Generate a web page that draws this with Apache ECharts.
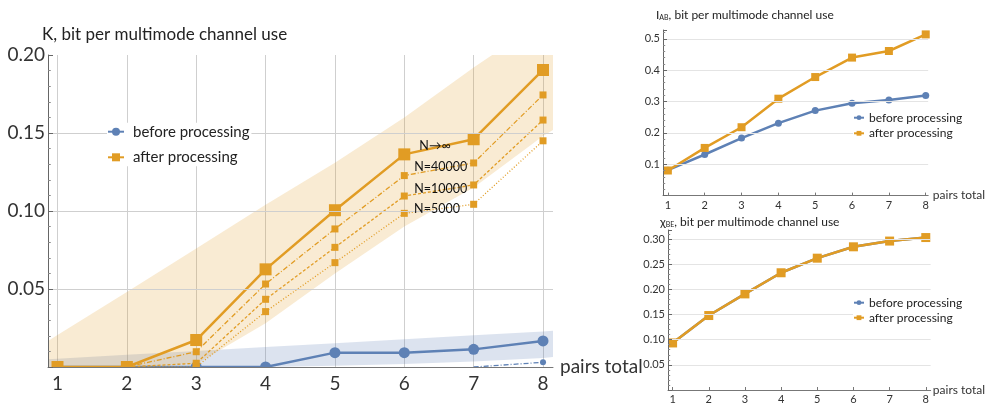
<!DOCTYPE html>
<html><head><meta charset="utf-8">
<script src="https://cdn.jsdelivr.net/npm/echarts@6/dist/echarts.min.js"></script>
<style>html,body{margin:0;padding:0;background:#fff}#c{width:986px;height:405px}</style>
</head><body><div id="c"></div>
<script>
// ---------- data ----------
const pairs = [1, 2, 3, 4, 5, 6, 7, 8];
// main panel: K
const kBefore        = [0, 0, 0, 0, 0.0092, 0.0092, 0.0113, 0.0167];
const kBeforeN40000  = [null, null, null, null, null, null, 0, 0.003];
const kAfterInf      = [0, 0, 0.0173, 0.0626, 0.1005, 0.1363, 0.1460, 0.1904];
const kAfterN40000   = [0, 0, 0.0098, 0.0532, 0.0885, 0.1227, 0.1308, 0.1744];
const kAfterN10000   = [0, 0, 0.0024, 0.0434, 0.0767, 0.1096, 0.1167, 0.1583];
const kAfterN5000    = [0, 0, 0, 0.0355, 0.0669, 0.0985, 0.1043, 0.1450];
// confidence bands
const bandX      = [0.863, 1, 2, 3, 4, 5, 6, 7, 8, 8.144];
const orangeLow  = [0, 0, 0, 0.002, 0.028, 0.060, 0.090, 0.115, 0.148, 0.152];
const orangeHigh = [0.0167, 0.0205, 0.048, 0.076, 0.104, 0.131, 0.160, 0.192, 0.222, 0.227];
const blueLow    = [0, 0, 0, 0, 0, 0.0008, 0.002, 0.0035, 0.0058, 0.0064];
const blueHigh   = [0.005, 0.0053, 0.0078, 0.0103, 0.0128, 0.0153, 0.0178, 0.0203, 0.0228, 0.0232];
// top-right: I_AB
const iabBefore = [0.081, 0.131, 0.1835, 0.231, 0.271, 0.2946, 0.305, 0.319];
const iabAfter  = [0.080, 0.152, 0.218, 0.309, 0.378, 0.440, 0.461, 0.514];
// bottom-right: chi_BE
const chiBefore = [0.0935, 0.148, 0.191, 0.233, 0.262, 0.2846, 0.296, 0.303];
const chiAfter  = [0.0935, 0.148, 0.191, 0.233, 0.262, 0.2846, 0.296, 0.303];
// labels
const nLabels = ['N\u2192\u221E', 'N=40000', 'N=10000', 'N=5000'];

// ---------- style ----------
const BLUE = '#5E81B5', ORANGE = '#E19C24';
const FONT = 'Lato';
const TXT = '#333';

const pts = (ys) => pairs.map((x, i) => [x, ys[i] == null ? '-' : ys[i]]);

function bandSeries(lo, hi, fill) {
  return {
    type: 'custom', xAxisIndex: 0, yAxisIndex: 0, clip: true, silent: true, z: 1,
    data: bandX.map((x, i) => [x, lo[i], hi[i]]),
    encode: {x: 0, y: [1, 2]},
    renderItem: function (params, api) {
      if (params.dataIndex !== 0) return null;
      const top = bandX.map((x, i) => api.coord([x, hi[i]]));
      const bot = bandX.map((x, i) => api.coord([x, lo[i]])).reverse();
      return {type: 'polygon', shape: {points: top.concat(bot)}, style: {fill: fill}};
    }
  };
}

const chart = echarts.init(document.getElementById('c'), null, {renderer: 'canvas'});

const series = [
  bandSeries(blueLow, blueHigh, 'rgba(94,129,181,0.22)'),
  bandSeries(orangeLow, orangeHigh, 'rgba(225,156,36,0.2)'),
  // blue
  {name: 'before processing', type: 'line', xAxisIndex: 0, yAxisIndex: 0, data: pts(kBefore),
   symbol: 'circle', symbolSize: 11, color: BLUE, lineStyle: {width: 2.5, color: BLUE}, itemStyle: {color: BLUE}, z: 3,
   markLine: {silent: true, z: 0, symbol: ['none', 'none'], label: {show: false},
     lineStyle: {color: '#cfcfcf', type: 'solid', width: 1},
     data: pairs.map(v => ({xAxis: v}))}},
  {name: 'before N40000', type: 'line', xAxisIndex: 0, yAxisIndex: 0, data: pts(kBeforeN40000),
   symbol: 'circle', symbolSize: (v) => (v[1] > 0 ? 6 : 0), color: BLUE,
   lineStyle: {width: 1.3, color: BLUE, type: [5, 2, 1, 2]}, itemStyle: {color: BLUE}, z: 3},
  // orange
  {name: 'after N5000', type: 'line', xAxisIndex: 0, yAxisIndex: 0, data: pts(kAfterN5000),
   symbol: 'rect', symbolSize: 7, lineStyle: {width: 1.3, color: ORANGE, type: [1, 2]}, itemStyle: {color: ORANGE}, z: 4},
  {name: 'after N10000', type: 'line', xAxisIndex: 0, yAxisIndex: 0, data: pts(kAfterN10000),
   symbol: 'rect', symbolSize: 7, lineStyle: {width: 1.3, color: ORANGE, type: [3, 2]}, itemStyle: {color: ORANGE}, z: 4},
  {name: 'after N40000', type: 'line', xAxisIndex: 0, yAxisIndex: 0, data: pts(kAfterN40000),
   symbol: 'rect', symbolSize: 7, lineStyle: {width: 1.3, color: ORANGE, type: [5, 2, 1, 2]}, itemStyle: {color: ORANGE}, z: 4},
  {name: 'after processing', type: 'line', xAxisIndex: 0, yAxisIndex: 0, data: pts(kAfterInf),
   symbol: 'rect', symbolSize: 12, color: ORANGE, lineStyle: {width: 2.5, color: ORANGE}, itemStyle: {color: ORANGE}, z: 4},
  // top-right
  {name: 'before processing', type: 'line', xAxisIndex: 1, yAxisIndex: 1, data: pts(iabBefore),
   symbol: 'circle', symbolSize: 7, lineStyle: {width: 2.5, color: BLUE}, itemStyle: {color: BLUE}, z: 3},
  {name: 'after processing', type: 'line', xAxisIndex: 1, yAxisIndex: 1, data: pts(iabAfter),
   symbol: 'rect', symbolSize: 8, lineStyle: {width: 2.5, color: ORANGE}, itemStyle: {color: ORANGE}, z: 4},
  // bottom-right
  {name: 'before processing', type: 'line', xAxisIndex: 2, yAxisIndex: 2, data: pts(chiBefore),
   symbol: 'circle', symbolSize: 7, lineStyle: {width: 2.5, color: BLUE}, itemStyle: {color: BLUE}, z: 3},
  {name: 'after processing', type: 'line', xAxisIndex: 2, yAxisIndex: 2, data: pts(chiAfter),
   symbol: 'rect', symbolSize: 9, lineStyle: {width: 2.5, color: ORANGE}, itemStyle: {color: ORANGE}, z: 4}
];

function xAx(grid, min, max, fs, margin, nameFs, nameGap, ticks) {
  return {
    gridIndex: grid, type: 'value', min: min, max: max, z: 10,
    axisLine: {show: true, onZero: false, lineStyle: {color: '#777', width: 1}},
    axisTick: ticks ? {show: true, inside: true, length: 3, customValues: pairs, lineStyle: {color: '#777'}} : {show: false},
    splitLine: {show: false},
    axisLabel: {customValues: pairs, fontSize: fs, fontFamily: FONT, color: TXT, margin: margin},
    name: 'pairs total', nameLocation: 'end', nameGap: nameGap,
    nameTextStyle: {fontSize: nameFs, fontFamily: FONT, color: TXT}
  };
}
function yAx(grid, max, interval, fs, digits, margin, gridColor, tickLen) {
  return {
    gridIndex: grid, type: 'value', min: 0, max: max, interval: interval, z: 10,
    axisLine: {show: true, onZero: false, lineStyle: {color: '#666', width: 1}},
    axisTick: {show: true, inside: true, length: tickLen, lineStyle: {color: '#666'}},
    minorTick: {show: true, splitNumber: 5, length: tickLen * 0.55, lineStyle: {color: '#888'}},
    splitLine: {show: true, showMaxLine: false, lineStyle: {color: gridColor, width: 1}},
    axisLabel: {fontSize: fs, fontFamily: FONT, color: TXT, margin: margin, showMaxLabel: max === 0.2,
      formatter: (v) => (v === 0 ? '' : v.toFixed(digits))}
  };
}

const legendBase = {data: ['before processing', 'after processing'], orient: 'vertical',
  selectedMode: false, backgroundColor: '#fff', padding: 0, z: 14};

const option = {
  animation: false,
  backgroundColor: '#fff',
  grid: [
    {left: 48, top: 55, width: 505, height: 312, containLabel: false},
    {left: 663, top: 30, width: 272, height: 165.6, containLabel: false},
    {left: 668, top: 230, width: 268, height: 165.3, containLabel: false}
  ],
  xAxis: [
    xAx(0, 0.863, 8.144, 19, 7, 19, 7, false),
    xAx(1, 0.868, 8.066, 11, 4, 12, 2, true),
    xAx(2, 0.873, 8.135, 11, 4, 12, 2, true)
  ],
  yAxis: [
    yAx(0, 0.2, 0.05, 19, 2, 3, '#cfcfcf', 5),
    yAx(1, 0.528, 0.1, 11, 1, 3, '#e4e4e4', 4),
    yAx(2, 0.318, 0.05, 11, 2, 3, '#e4e4e4', 4)
  ],
  legend: [
    Object.assign({}, legendBase, {left: 107, top: 122.7, itemWidth: 16, itemHeight: 10, itemGap: 7.6,
     textStyle: {fontSize: 15, fontFamily: FONT, color: '#222', lineHeight: 18, padding: [0, 2, 0, 4]}}),
    Object.assign({}, legendBase, {left: 853, top: 110.7, itemWidth: 10, itemHeight: 6, itemGap: 1.6,
     textStyle: {fontSize: 12, fontFamily: FONT, color: '#222', lineHeight: 14, padding: [0, 2, 0, 0]}}),
    Object.assign({}, legendBase, {left: 853, top: 295.7, itemWidth: 10, itemHeight: 6, itemGap: 1,
     textStyle: {fontSize: 12, fontFamily: FONT, color: '#222', lineHeight: 14, padding: [0, 2, 0, 0]}})
  ],
  graphic: [
    {type: 'rect', shape: {x: 30, y: 367.5, width: 530, height: 12}, style: {fill: '#fff'}, z: 5, silent: true},
    {type: 'text', style: {x: 42, y: 35, text: 'K, bit per multimode channel use', font: '17px ' + FONT, fill: '#222', verticalAlign: 'middle'}},
    {type: 'text', style: {x: 656, y: 15, text: '{a|I}{s|AB}{a|, bit per multimode channel use}', fill: '#222', verticalAlign: 'middle',
      rich: {a: {fontSize: 12, fontFamily: FONT, fill: '#222'}, s: {fontSize: 7, fontFamily: FONT, fill: '#222', padding: [6, 0, 0, 0]}}}},
    {type: 'text', style: {x: 660, y: 221.7, text: '{a|\u03C7}{s|BE}{a|, bit per multimode channel use}', fill: '#222', verticalAlign: 'middle',
      rich: {a: {fontSize: 12, fontFamily: FONT, fill: '#222'}, s: {fontSize: 7, fontFamily: FONT, fill: '#222', padding: [6, 0, 0, 0]}}}},
    {type: 'text', style: {x: 435, y: 146, text: nLabels[0], font: '12.5px ' + FONT, fill: '#111', align: 'center', verticalAlign: 'middle'}, z: 20},
    {type: 'text', style: {x: 440.7, y: 166.7, text: nLabels[1], font: '12.5px ' + FONT, fill: '#111', align: 'center', verticalAlign: 'middle'}, z: 20},
    {type: 'text', style: {x: 440.7, y: 189, text: nLabels[2], font: '12.5px ' + FONT, fill: '#111', align: 'center', verticalAlign: 'middle'}, z: 20},
    {type: 'text', style: {x: 437, y: 208.7, text: nLabels[3], font: '12.5px ' + FONT, fill: '#111', align: 'center', verticalAlign: 'middle'}, z: 20}
  ],
  series: series
};
chart.setOption(option);
</script>
</body></html>
